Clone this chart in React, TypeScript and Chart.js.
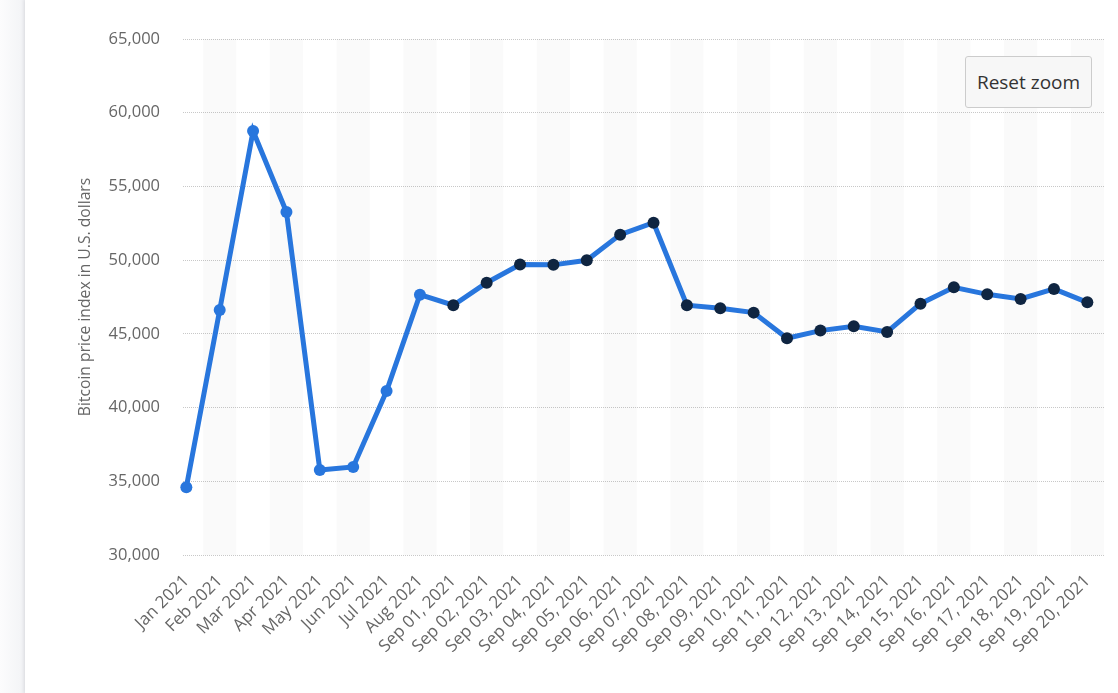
import React, { useEffect, useRef } from "react";
import { Chart, registerables } from "chart.js";

Chart.register(...registerables);

const categories = [
  "Jan 2021", "Feb 2021", "Mar 2021", "Apr 2021", "May 2021", "Jun 2021", "Jul 2021", "Aug 2021",
  "Sep 01, 2021", "Sep 02, 2021", "Sep 03, 2021", "Sep 04, 2021", "Sep 05, 2021", "Sep 06, 2021",
  "Sep 07, 2021", "Sep 08, 2021", "Sep 09, 2021", "Sep 10, 2021", "Sep 11, 2021", "Sep 12, 2021",
  "Sep 13, 2021", "Sep 14, 2021", "Sep 15, 2021", "Sep 16, 2021", "Sep 17, 2021", "Sep 18, 2021",
  "Sep 19, 2021", "Sep 20, 2021",
];

const prices = [
  34600, 46620, 58760, 53270, 35770, 35970, 41120, 47660,
  46940, 48470, 49700, 49680, 49990, 51730, 52540, 46940,
  46730, 46440, 44700, 45220, 45510, 45130, 47050, 48160,
  47680, 47370, 48050, 47140,
];

const yTicks = [30000, 35000, 40000, 45000, 50000, 55000, 60000, 65000];

const yAxisTitle = "Bitcoin price index in U.S. dollars";
const buttonLabel = "Reset zoom";

const LINE_BLUE = "#2876dd";
const POINT_NAVY = "#0f2541";
const FONT = "'Open Sans', 'Noto Sans', sans-serif";

const bandsPlugin = {
  id: "bands",
  beforeDatasetsDraw(chart: any) {
    const { ctx, chartArea, scales } = chart;
    const x = scales.x;
    ctx.save();
    ctx.beginPath();
    ctx.rect(chartArea.left, chartArea.top, chartArea.right - chartArea.left, chartArea.bottom - chartArea.top);
    ctx.clip();
    ctx.fillStyle = "rgba(0,0,0,0.02)";
    for (let i = 1; i < categories.length; i += 2) {
      const a = x.getPixelForValue(i - 0.5);
      const b = x.getPixelForValue(i + 0.5);
      ctx.fillRect(a, chartArea.top, b - a, chartArea.bottom - chartArea.top);
    }
    ctx.restore();
  },
};

export default function App() {
  const canvasRef = useRef<HTMLCanvasElement | null>(null);

  useEffect(() => {
    if (!canvasRef.current) return;
    const data = prices.map((v, i) => ({ x: i, y: v }));
    const isDaily = (i: number) => !!categories[i] && categories[i].includes(",");
    const chart = new Chart(canvasRef.current, {
      type: "line",
      data: {
        datasets: [
          {
            data,
            borderColor: LINE_BLUE,
            borderWidth: 5,
            pointRadius: 6,
            pointHoverRadius: 6,
            pointBorderWidth: 0,
            pointBackgroundColor: (c: any) => (isDaily(c.dataIndex) ? POINT_NAVY : LINE_BLUE),
            pointBorderColor: (c: any) => (isDaily(c.dataIndex) ? POINT_NAVY : LINE_BLUE),
            tension: 0,
            clip: false as any,
          },
        ],
      },
      options: {
        animation: false,
        responsive: false,
        maintainAspectRatio: false,
        layout: { padding: { top: 39, right: 13, bottom: 0, left: 0 } },
        plugins: {
          legend: { display: false },
          tooltip: { enabled: false },
        },
        scales: {
          x: {
            type: "linear",
            min: -0.1,
            max: 27.5,
            afterFit: (s: any) => {
              s.height = 138;
            },
            grid: { display: false, drawTicks: false },
            border: { display: false },
            ticks: {
              stepSize: 1,
              autoSkip: false,
              includeBounds: false,
              minRotation: 45,
              maxRotation: 45,
              padding: 16,
              color: "#666666",
              font: { family: FONT, size: 17 },
              callback: (v: any) => categories[Number(v)] ?? "",
            },
          },
          y: {
            min: yTicks[0],
            max: yTicks[yTicks.length - 1],
            afterFit: (s: any) => {
              s.width = 183;
            },
            afterBuildTicks: (s: any) => {
              s.ticks = yTicks.map((v) => ({ value: v }));
            },
            grid: { color: "#c8c8c8", lineWidth: 1, drawTicks: false },
            border: { display: false, dash: [1, 1] },
            ticks: {
              padding: 23,
              color: "#666666",
              font: { family: FONT, size: 16.5 },
              callback: (v: any) => Number(v).toLocaleString("en-US"),
            },
            title: {
              display: true,
              text: yAxisTitle,
              color: "#666666",
              font: { family: FONT, size: 15.7 },
              padding: { top: 76, bottom: 0 },
            },
          },
        },
      },
      plugins: [bandsPlugin],
    });
    return () => chart.destroy();
  }, []);

  return (
    <div
      style={{
        position: "fixed",
        left: 0,
        top: 0,
        width: 1118,
        height: 693,
        overflow: "hidden",
        background: "linear-gradient(to right, #fcfcfd 0px, #f4f5f7 20px, #eaebef 25px)",
        fontFamily: FONT,
      }}
    >
      <div
        style={{
          position: "absolute",
          left: 25,
          top: 0,
          width: 1093,
          height: 693,
          background: "#ffffff",
          boxShadow: "-1px 0 3px rgba(0,0,0,0.06)",
        }}
      />
      <canvas
        ref={canvasRef}
        width={1118}
        height={693}
        style={{ position: "absolute", left: 0, top: 0, width: 1118, height: 693 }}
      />
      <button
        style={{
          position: "absolute",
          left: 965,
          top: 56,
          width: 127,
          height: 52,
          background: "#f7f7f7",
          border: "1px solid #cccccc",
          borderRadius: 3,
          color: "#333333",
          fontFamily: FONT,
          fontSize: 19,
          padding: 0,
          boxSizing: "border-box",
        }}
      >
        {buttonLabel}
      </button>
    </div>
  );
}
